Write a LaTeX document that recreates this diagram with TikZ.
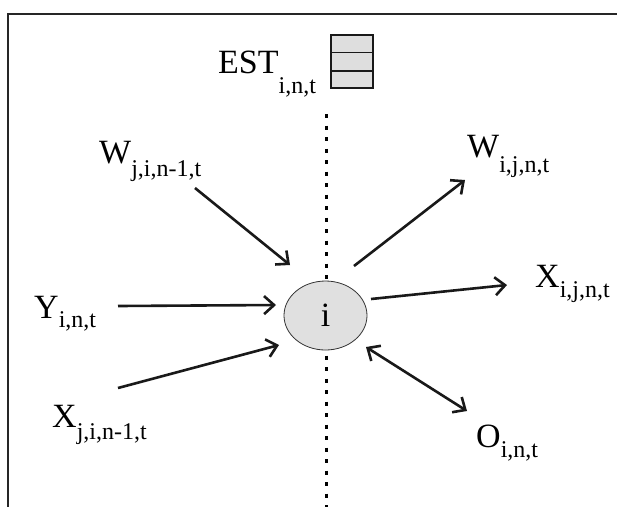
\documentclass[tikz,border=0pt]{standalone}
\usepackage{fontspec}
\setmainfont{Liberation Serif}
\usetikzlibrary{arrows.meta,shapes.geometric}
\newcommand\mysub[2]{\raisebox{-#1pt}{\fontsize{24}{24}\selectfont #2}}
\begin{document}
\begin{tikzpicture}[x=1pt,y=-1pt,
  lbl/.style={anchor=base west, inner sep=0pt, font=\fontsize{34}{34}\selectfont},
  flow/.style={line width=2.6pt, color=black!90, -{Straight Barb[length=10pt,width=18pt]}},
  both/.style={line width=2.6pt, color=black!90, {Straight Barb[length=10pt,width=18pt]}-{Straight Barb[length=10pt,width=18pt]}},
  frame/.style={line width=1.3pt, color=black!85},
  dots/.style={line width=3pt, dash pattern=on 4pt off 7.5pt},
  proc/.style={ellipse, draw=black!80, line width=0.8pt, fill=black!12, minimum width=83pt, minimum height=69pt, inner sep=0pt, font=\fontsize{34}{34}\selectfont},
  stack/.style={draw=black!90, line width=1.2pt, fill=black!13, minimum width=42pt, minimum height=53pt, inner sep=0pt}]
\useasboundingbox (0,0) rectangle (617,507);
% frame
\coordinate (fTR) at (617,14);
\coordinate (fTL) at (8,14);
\coordinate (fBL) at (8,507);
\draw[frame] (fTR) -- (fTL) -- (fBL);
% divider
\coordinate (dTop) at (326,114);
\coordinate (dBot) at (326,507);
\draw[dots] (dTop) -- (dBot);
% EST
\node[lbl] (est) at (218,73) {EST\mysub{20}{i,n,t}};
\node[stack] (stk) at (352,61.5) {};
\draw[line width=1.2pt, color=black!90] ([yshift=-17.7pt]stk.north west) -- ([yshift=-17.7pt]stk.north east);
\draw[line width=1.2pt, color=black!90] ([yshift=17.7pt]stk.south west) -- ([yshift=17.7pt]stk.south east);
% centre
\node[proc] (i) at (325.5,315.5) {i};
% labels
\node[lbl] (wji) at (99,163) {W\mysub{13}{j,i,n-1,t}};
\node[lbl] (y) at (34,318) {Y\mysub{9}{i,n,t}};
\node[lbl] (xji) at (52,427) {X\mysub{12}{j,i,n-1,t}};
\node[lbl] (wij) at (467,157) {W\mysub{15}{i,j,n,t}};
\node[lbl] (xij) at (535,287) {X\mysub{10}{i,j,n,t}};
\node[lbl] (o) at (476,447) {O\mysub{10}{i,n,t}};
% arrow ends
\coordinate (a1s) at (195,188); \coordinate (a1e) at (290,265);
\coordinate (a2s) at (118,306); \coordinate (a2e) at (276,305);
\coordinate (a3s) at (118,388); \coordinate (a3e) at (279,345);
\coordinate (a4s) at (354,266); \coordinate (a4e) at (465,180);
\coordinate (a5s) at (371,299); \coordinate (a5e) at (507,285);
\coordinate (a6s) at (366,347); \coordinate (a6e) at (467,411);
\draw[flow] (a1s) -- (a1e);
\draw[flow] (a2s) -- (a2e);
\draw[flow] (a3s) -- (a3e);
\draw[flow] (a4s) -- (a4e);
\draw[flow] (a5s) -- (a5e);
\draw[both] (a6s) -- (a6e);
\end{tikzpicture}
\end{document}
